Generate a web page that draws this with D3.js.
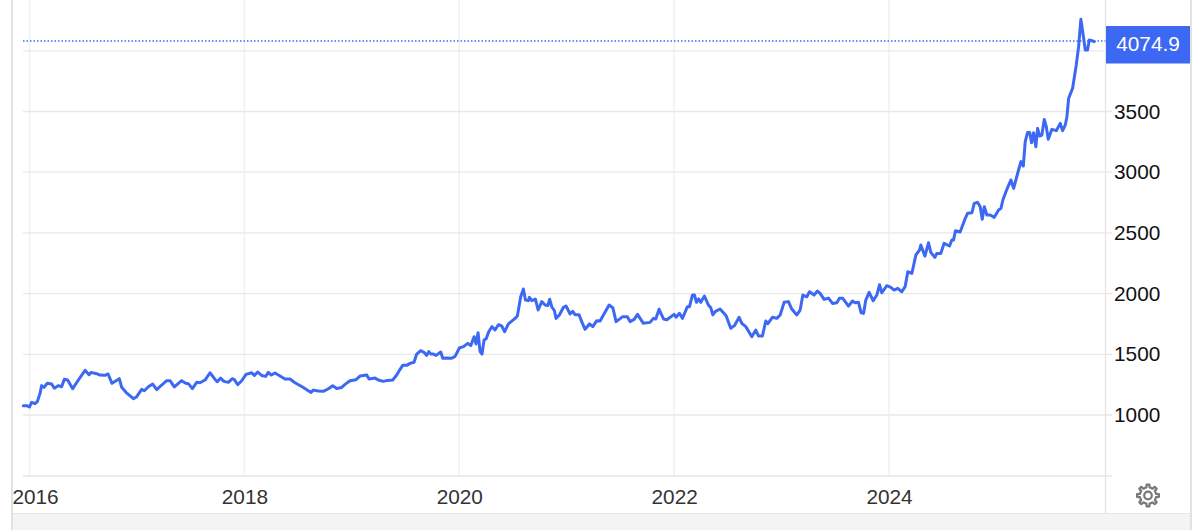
<!DOCTYPE html>
<html>
<head>
<meta charset="utf-8">
<script src="https://cdn.jsdelivr.net/npm/d3@7"></script>
<style>
html,body{margin:0;padding:0;background:#fff;overflow:hidden}
svg{display:block}
text{font-family:"Liberation Sans",Arial,sans-serif}
</style>
</head>
<body>
<div id="chart"></div>
<script>
const dates = [
2015.943,2015.974,2016.0,2016.02,2016.051,2016.073,2016.098,2016.113,2016.135,2016.166,2016.206,2016.231,2016.268,2016.299,2016.324,2016.355,2016.402,2016.455,2016.517,2016.554,2016.573,2016.625,2016.656,2016.703,2016.731,2016.768,2016.836,2016.858,2016.898,2016.967,2016.998,2017.044,2017.069,2017.106,2017.147,2017.184,2017.23,2017.277,2017.308,2017.348,2017.416,2017.454,2017.479,2017.516,2017.556,
2017.587,2017.634,2017.68,2017.727,2017.748,2017.779,2017.81,2017.851,2017.888,2017.907,2017.938,2017.975,2018.015,2018.068,2018.093,2018.124,2018.161,2018.198,2018.223,2018.248,2018.285,2018.332,2018.378,2018.425,2018.471,2018.549,2018.62,2018.642,2018.689,2018.735,2018.782,2018.822,2018.859,2018.906,2018.937,2018.983,2019.039,2019.076,2019.139,2019.16,2019.216,2019.247,2019.294,2019.331,2019.381,2019.418,
2019.449,2019.474,2019.511,2019.542,2019.579,2019.604,2019.641,2019.672,2019.697,2019.716,2019.735,2019.759,2019.784,2019.828,2019.846,2019.883,2019.93,2019.961,2020.001,2020.039,2020.079,2020.107,2020.138,2020.156,2020.175,2020.194,2020.212,2020.231,2020.25,2020.274,2020.305,2020.333,2020.364,2020.395,2020.423,2020.457,2020.52,2020.541,2020.572,2020.597,2020.616,2020.644,2020.653,2020.675,2020.709,2020.734,2020.768,2020.799,2020.824,2020.842,2020.861,2020.886,2020.901,2020.932,2020.97,2020.994,2021.032,2021.056,2021.078,2021.115,2021.14,2021.171,2021.212,2021.243,2021.28,
2021.311,2021.342,2021.395,2021.429,2021.46,2021.522,2021.565,2021.59,2021.628,2021.659,2021.714,2021.776,2021.807,2021.829,2021.86,2021.901,2021.932,2022.0,2022.018,2022.05,2022.077,2022.124,2022.143,2022.171,2022.189,2022.208,2022.229,2022.248,2022.282,2022.319,2022.341,2022.36,2022.382,2022.428,2022.484,2022.527,2022.561,2022.605,2022.63,2022.667,2022.723,2022.76,2022.785,2022.822,2022.853,2022.872,2022.915,2022.956,2022.987,2023.024,2023.064,2023.095,2023.142,
2023.173,2023.198,2023.235,2023.26,2023.303,2023.334,2023.359,2023.396,2023.437,2023.474,2023.514,2023.539,2023.57,2023.623,2023.66,2023.685,2023.716,2023.741,2023.763,2023.784,2023.815,2023.853,2023.887,2023.912,2023.933,2023.98,2024.017,2024.048,2024.082,2024.119,2024.15,2024.175,2024.213,2024.25,2024.284,2024.296,2024.334,2024.368,2024.389,2024.427,2024.445,2024.482,2024.513,2024.563,2024.585,2024.6,2024.619,2024.662,
2024.71,2024.731,2024.772,2024.793,2024.824,2024.849,2024.868,2024.887,2024.911,2024.942,2024.98,2025.02,2025.042,2025.06,2025.098,2025.135,2025.16,2025.206,2025.228,2025.25,2025.268,2025.29,2025.309,2025.327,2025.346,2025.367,2025.383,2025.402,2025.423,2025.445,2025.464,2025.482,2025.516,2025.557,2025.594,2025.616,2025.641,2025.656,2025.672,2025.709,2025.743,2025.765,2025.786,2025.805,2025.827,2025.848,2025.864,2025.889,2025.91
];
const prices = [
1077,1077,1066,1104,1093,1110,1178,1242,1228,1261,1255,1220,1242,1233,1294,1288,1217,1288,1368,1332,1351,1340,1329,1327,1338,1261,1299,1228,1187,1134,1151,1211,1200,1233,1255,1209,1247,1283,1283,1231,1283,1261,1258,1217,1269,
1266,1288,1348,1293,1274,1304,1277,1269,1299,1291,1249,1282,1335,1348,1326,1354,1326,1318,1351,1329,1346,1321,1296,1296,1266,1227,1186,1205,1197,1195,1216,1241,1219,1227,1252,1282,1291,1321,1329,1296,1304,1288,1277,1285,1288,1329,
1376,1409,1409,1425,1434,1502,1530,1516,1491,1522,1502,1502,1491,1519,1467,1469,1467,1483,1552,1563,1590,1571,1645,1585,1678,1522,1502,1618,1626,1686,1728,1700,1744,1733,1686,1750,1796,1815,1975,2038,1947,1942,1969,1942,1955,1865,1934,1906,1901,1953,1892,1859,1796,1824,1887,1898,1832,1854,1826,1826,1769,1706,1750,1728,1777,
1774,1824,1906,1884,1769,1810,1810,1769,1788,1829,1755,1763,1796,1791,1871,1791,1785,1829,1805,1838,1796,1892,1892,1989,1989,1928,1956,1928,1980,1906,1884,1824,1851,1873,1818,1714,1736,1805,1755,1728,1645,1700,1651,1651,1774,1752,1805,1796,1824,1928,1934,1873,1824,
1864,1988,1974,2015,1988,2021,2002,1952,1963,1919,1925,1961,1961,1897,1939,1925,1928,1842,1837,1947,2010,1941,1988,2073,2007,2065,2051,2029,2043,2015,2057,2180,2167,2318,2359,2400,2309,2419,2340,2298,2331,2331,2414,2392,2441,2441,2518,2507,
2620,2661,2666,2743,2752,2716,2612,2716,2647,2647,2628,2688,2702,2771,2861,2936,2867,3018,3087,3051,3251,3328,3328,3243,3325,3210,3361,3298,3306,3435,3375,3271,3353,3342,3402,3342,3389,3457,3608,3691,3883,4034,4259,4144,4006,4006,4089,4083,4075
];
const yTickValues = [1000,1500,2000,2500,3000,3500];
const yGridValues = [1000,1500,2000,2500,3000,3500,4000];
const xTickValues = [2016,2018,2020,2022,2024];
const lastValue = 4074.9;

const W = 1200, H = 530;
const plotLeft = 23, plotRight = 1105.5, plotBottom = 476;
const blue = "#3c68f4";

const x = d3.scaleLinear().domain([2016,2024]).range([29.5,889]);
const y = d3.scaleLinear().domain([500,4000]).range([475.7,50.8]);

const svg = d3.select("#chart").append("svg").attr("width",W).attr("height",H);
svg.append("rect").attr("width",W).attr("height",H).attr("fill","#fff");

// footer strip + frame
svg.append("rect").attr("x",12).attr("y",514).attr("width",1179).attr("height",16).attr("fill","#f4f4f4");
svg.append("line").attr("x1",12).attr("x2",1191).attr("y1",513.5).attr("y2",513.5).attr("stroke","#e6e6e6");
svg.append("line").attr("x1",12).attr("x2",12).attr("y1",0).attr("y2",H).attr("stroke","#e2e2e2").attr("stroke-width",2);
svg.append("line").attr("x1",1191).attr("x2",1191).attr("y1",0).attr("y2",H).attr("stroke","#e2e2e2").attr("stroke-width",2);

// vertical grid
svg.append("g").selectAll("line").data(xTickValues).join("line")
  .attr("x1",d=>x(d)).attr("x2",d=>x(d)).attr("y1",0).attr("y2",plotBottom)
  .attr("stroke","#eef2f6").attr("stroke-width",1.5);

// horizontal grid
svg.append("g").selectAll("line").data(yGridValues).join("line")
  .attr("x1",plotLeft).attr("x2",d=>d===4000?plotRight-2:1112).attr("y1",d=>y(d)).attr("y2",d=>y(d))
  .attr("stroke","#e8e8e8").attr("stroke-width",1.3);

// axes lines
svg.append("line").attr("x1",plotLeft).attr("x2",1112).attr("y1",plotBottom).attr("y2",plotBottom).attr("stroke","#e6e6e6").attr("stroke-width",1.3);
svg.append("line").attr("x1",plotRight).attr("x2",plotRight).attr("y1",0).attr("y2",513).attr("stroke","#e4e4e4").attr("stroke-width",1.3);

// y labels
const yAxis = d3.axisRight(y).tickValues(yTickValues).tickSize(0).tickPadding(0).tickFormat(d3.format("d"));
const gy = svg.append("g").attr("transform","translate(1114,0)").call(yAxis);
gy.select(".domain").remove();
gy.selectAll("text").attr("font-size",20.8).attr("fill","#111").attr("font-family","'Liberation Sans',Arial,sans-serif");

// x labels
const xAxis = d3.axisBottom(x).tickValues(xTickValues).tickSize(0).tickPadding(0).tickFormat(d3.format("d"));
const gx = svg.append("g").attr("transform","translate(0,489.5)").call(xAxis);
gx.select(".domain").remove();
gx.selectAll("text").attr("font-size",20.8).attr("fill","#333").attr("font-family","'Liberation Sans',Arial,sans-serif")
  .attr("dx",d=>d===2016?5.5:0);

// last value dotted line
svg.append("line").attr("x1",plotLeft).attr("x2",plotRight).attr("y1",41).attr("y2",41)
  .attr("stroke",blue).attr("stroke-width",1.4).attr("stroke-dasharray","1.5 2");

// price line
const line = d3.line().x((d,i)=>x(dates[i])).y(d=>y(d)).curve(d3.curveLinear);
svg.append("path").attr("d",line(prices)).attr("fill","none").attr("stroke",blue)
  .attr("stroke-width",3).attr("stroke-linejoin","round").attr("stroke-linecap","round");

// last value label
svg.append("rect").attr("x",1106).attr("y",26).attr("width",84).attr("height",37.5).attr("fill",blue);
svg.append("text").attr("x",1148).attr("y",45).attr("text-anchor","middle").attr("dominant-baseline","middle")
  .attr("font-size",20.8).attr("fill","#fff").text(lastValue.toFixed(1));

// settings gear
const gearPts = [];
const teeth = 8, rOut = 11, rIn = 8.2;
for (let i=0;i<teeth;i++){
  const a = i*2*Math.PI/teeth - Math.PI/2, w = 2*Math.PI/teeth;
  [[-0.5,rIn],[-0.25,rIn],[-0.16,rOut],[0.16,rOut],[0.25,rIn]].forEach(([f,r])=>gearPts.push([a+f*w,r]));
}
const gear = svg.append("g").attr("transform","translate(1148,495.5)");
gear.append("path").attr("d",d3.lineRadial().angle(d=>d[0]+Math.PI/2).radius(d=>d[1]).curve(d3.curveLinearClosed)(gearPts))
  .attr("fill","none").attr("stroke","#777").attr("stroke-width",2.2).attr("stroke-linejoin","round");
gear.append("circle").attr("r",3.8).attr("fill","none").attr("stroke","#777").attr("stroke-width",2.2);
</script>
</body>
</html>
